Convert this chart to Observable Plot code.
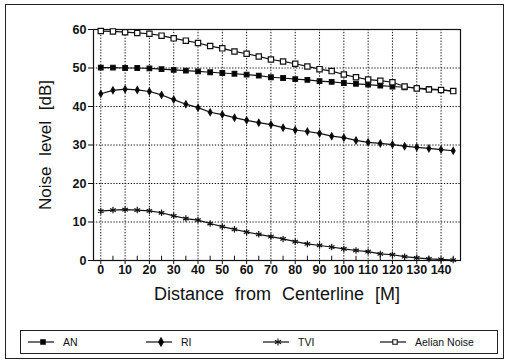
<!DOCTYPE html>
<html>
<head>
<meta charset="utf-8">
<script src="https://cdn.jsdelivr.net/npm/d3@7"></script>
<script src="https://cdn.jsdelivr.net/npm/@observablehq/plot@0.6"></script>
<style>
  html, body { margin: 0; padding: 0; background: #fff; }
  body { width: 507px; height: 364px; position: relative; overflow: hidden; font-family: "Liberation Sans", Arial, sans-serif; }
  #chart { position: absolute; left: 0; top: 0; }
  #outer { position: absolute; left: 5px; top: 4px; width: 497px; height: 353px; border: 1px solid #222; pointer-events: none; }
  #legend { position: absolute; left: 20px; top: 330px; width: 476px; height: 22px; border: 1px solid #222; box-sizing: content-box; }
  .item { position: absolute; top: 0; height: 22px; display: flex; align-items: center; font-size: 10.5px; color: #111; }
  .item svg { margin-right: 8px; }
</style>
</head>
<body>
<div id="chart"></div>
<div id="outer"></div>
<div id="legend"></div>
<script>
const distance = [0,5,10,15,20,25,30,35,40,45,50,55,60,65,70,75,80,85,90,95,100,105,110,115,120,125,130,135,140,145];
const an     = [50.1,50.1,50.0,50.0,49.9,49.7,49.5,49.3,49.1,48.9,48.7,48.5,48.3,48.0,47.6,47.4,47.1,46.9,46.6,46.4,46.1,45.9,45.7,45.4,45.2,45.0,44.8,44.6,44.3,44.0];
const ri     = [43.3,44.2,44.5,44.3,43.9,43.0,41.8,40.6,39.7,38.5,37.9,37.1,36.4,35.8,35.3,34.5,33.9,33.5,33.0,32.3,31.9,31.2,30.7,30.4,30.1,29.7,29.4,29.1,28.8,28.5];
const tvi    = [12.8,13.1,13.2,13.1,12.9,12.4,11.6,10.9,10.5,9.6,8.8,8.1,7.4,6.8,6.2,5.6,4.9,4.3,3.9,3.5,3.0,2.6,2.3,1.7,1.5,1.0,0.7,0.4,0.3,0.1];
const aelian = [59.6,59.5,59.3,59.1,58.9,58.4,57.7,57.1,56.5,55.7,55.1,54.3,53.7,53.0,52.2,51.7,51.1,50.4,49.7,49.2,48.3,47.6,47.0,46.7,46.3,45.2,44.7,44.4,44.3,44.0];
const seriesNames = ["AN", "RI", "TVI", "Aelian Noise"];
const xTicks = [0,10,20,30,40,50,60,70,80,90,100,110,120,130,140];
const xMinor = [5,15,25,35,45,55,65,75,85,95,105,115,125,135,145];
const yTicks = [0,10,20,30,40,50,60];
const xTitle = "Distance from Centerline [M]";
const yTitle = "Noise level [dB]";

const seriesValues = [an, ri, tvi, aelian];
const symbols = ["square", "diamond", "asterisk", "square"];
const fills = ["black", "black", "none", "white"];
const sizes = [2.6, 2.0, 3.0, 3.0];

const rows = [];
seriesNames.forEach((s, i) => distance.forEach((d, j) => rows.push({series: s, distance: d, value: seriesValues[i][j]})));

const dotted = {stroke: "#111", strokeOpacity: 1, strokeWidth: 1, strokeDasharray: "1.3,1.6"};

const plot = Plot.plot({
  width: 507,
  height: 325,
  marginLeft: 93,
  marginRight: 47,
  marginTop: 29,
  marginBottom: 65,
  style: {fontFamily: "'Liberation Sans', Arial, sans-serif", color: "#111", background: "white"},
  x: {domain: [-3, 148]},
  y: {domain: [0, 60]},
  marks: [
    Plot.gridY(yTicks.filter(t => t > 0 && t < 60), dotted),
    Plot.gridX(xTicks, dotted),
    Plot.ruleX(xMinor, {y1: 0, y2: 1.1, stroke: "#111", strokeWidth: 1}),
    Plot.frame({stroke: "#111", strokeWidth: 1.2}),
    Plot.axisY(yTicks, {tickSize: 5, tickPadding: 2, fontSize: 12.5, fontWeight: "bold", label: null}),
    Plot.axisX(xTicks, {tickSize: 4, tickPadding: 1, fontSize: 12.5, fontWeight: "bold", label: null}),
    Plot.line(rows, {x: "distance", y: "value", z: "series", stroke: "#111", strokeWidth: 1.2}),
    ...seriesNames.map((s, i) => Plot.dot(rows.filter(r => r.series === s), {
      x: "distance", y: "value", symbol: () => symbols[i], fill: fills[i], stroke: "#111", strokeWidth: 1.2, r: sizes[i]
    })),
    Plot.text([xTitle], {frameAnchor: "bottom", dy: 39, fontSize: 18, fill: "#111", text: d => d}),
    Plot.text([yTitle], {frameAnchor: "left", textAnchor: "middle", dx: -48, rotate: -90, fontSize: 17, fill: "#111", text: d => d})
  ]
});
document.getElementById("chart").appendChild(plot);
d3.select(plot).selectAll("g[aria-label='text'] text").style("word-spacing", "6px");

// legend
const legendLeft = [6, 124, 241, 358];
const legend = d3.select("#legend");
seriesNames.forEach((s, i) => {
  const item = legend.append("div").attr("class", "item").style("left", legendLeft[i] + "px");
  const sw = item.append("svg").attr("width", 28).attr("height", 12);
  sw.append("line").attr("x1", 1).attr("x2", 27).attr("y1", 6).attr("y2", 6).attr("stroke", "#111").attr("stroke-width", 1.2);
  const sym = {square: d3.symbolSquare, diamond: d3.symbolDiamond, asterisk: d3.symbolAsterisk}[symbols[i]];
  sw.append("path").attr("transform", "translate(16,6)")
    .attr("d", d3.symbol(sym, symbols[i] === "asterisk" ? 36 : 20)())
    .attr("fill", fills[i]).attr("stroke", "#111").attr("stroke-width", 1.1);
  item.append("span").text(s);
});
</script>
</body>
</html>
